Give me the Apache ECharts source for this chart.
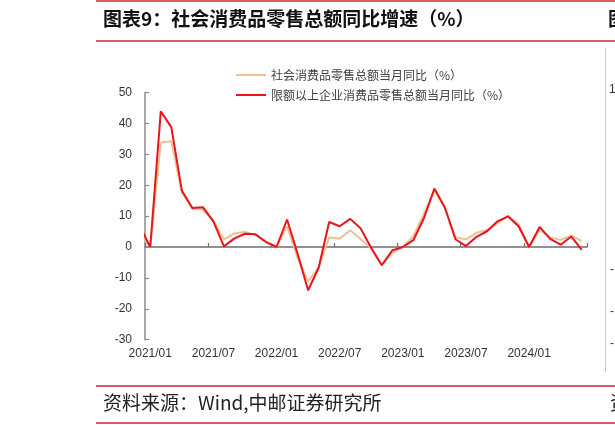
<!DOCTYPE html>
<html>
<head>
<meta charset="utf-8">
<script src="https://cdn.jsdelivr.net/npm/echarts@6/dist/echarts.min.js"></script>
<style>html,body{margin:0;padding:0;background:#fff;}#c{width:615px;height:425px;}</style>
</head>
<body>
<div id="c"></div>
<script>
const months = [
  '2020/12',
  '2021/01','2021/02','2021/03','2021/04','2021/05','2021/06','2021/07','2021/08','2021/09','2021/10','2021/11','2021/12',
  '2022/01','2022/02','2022/03','2022/04','2022/05','2022/06','2022/07','2022/08','2022/09','2022/10','2022/11','2022/12',
  '2023/01','2023/02','2023/03','2023/04','2023/05','2023/06','2023/07','2023/08','2023/09','2023/10','2023/11','2023/12',
  '2024/01','2024/02','2024/03','2024/04','2024/05','2024/06'
];
const retailTotal = [
  4.6,
  0, 33.8, 34.2, 17.7, 12.4, 12.1, 8.5, 2.5, 4.4, 4.9, 3.9, 1.7,
  0, 6.7, -3.5, -11.1, -6.7, 3.1, 2.7, 5.4, 2.5, -0.5, -5.9, -1.8,
  0, 3.5, 10.6, 18.4, 12.7, 3.1, 2.5, 4.6, 5.5, 7.6, 10.1, 7.4,
  0, 5.5, 3.1, 2.3, 3.7, 2.0
];
const retailAboveQuota = [
  6.8,
  0, 43.9, 38.8, 18.3, 12.6, 12.9, 8.3, 0.2, 2.8, 4.3, 4.1, 1.6,
  0, 8.9, -2.2, -14.0, -6.7, 8.1, 6.7, 9.1, 6.0, -0.3, -5.9, -1.1,
  0, 2.2, 9.3, 18.9, 12.7, 2.5, 0.3, 3.3, 5.1, 8.3, 9.9, 6.7,
  0, 6.5, 2.6, 0.75, 3.4, -0.9
];
const seriesNames = ['社会消费品零售总额当月同比（%）', '限额以上企业消费品零售总额当月同比（%）'];
const yTicks = { min: -30, max: 50, interval: 10 };
const titleText = '图表9：社会消费品零售总额同比增速（%）';
const sourceText = '资料来源：Wind,中邮证券研究所';

const showLabel = (idx, val) => /\/(01|07)$/.test(val);

const chart = echarts.init(document.getElementById('c'), null, { renderer: 'canvas' });
chart.setOption({
  animation: false,
  backgroundColor: '#ffffff',
  grid: { left: 145, top: 92.5, right: 28, bottom: 85.3, containLabel: false, outerBoundsMode: 'none' },
  legend: {
    orient: 'vertical',
    left: 236,
    top: 69,
    padding: 0,
    icon: 'rect',
    itemWidth: 30,
    itemHeight: 2,
    itemGap: 8,
    textStyle: { fontFamily: 'Noto Sans CJK SC', fontSize: 12, color: '#404040' },
    data: seriesNames
  },
  xAxis: {
    type: 'category',
    data: months,
    min: 1,
    boundaryGap: true,
    axisLine: { onZero: true, lineStyle: { color: '#6e6e6e', width: 1.5 } },
    axisTick: { show: true, inside: true, length: 4, interval: showLabel, lineStyle: { color: '#6e6e6e', width: 1.2 } },
    axisLabel: {
      interval: showLabel,
      margin: 8,
      fontFamily: 'Liberation Sans',
      fontSize: 12,
      color: '#333333'
    },
    splitLine: { show: false }
  },
  yAxis: {
    type: 'value',
    min: yTicks.min,
    max: yTicks.max,
    interval: yTicks.interval,
    axisLine: { show: true, lineStyle: { color: '#8c8c8c', width: 1.5 } },
    axisTick: { show: true, inside: true, length: 4, lineStyle: { color: '#8c8c8c', width: 1.2 } },
    axisLabel: { margin: 13, fontFamily: 'Liberation Sans', fontSize: 12, color: '#333333' },
    splitLine: { show: false }
  },
  series: [
    {
      name: seriesNames[0],
      type: 'line',
      data: retailTotal,
      symbol: 'none',
      clip: true,
      lineStyle: { color: '#E9C394', width: 2 },
      itemStyle: { color: '#E9C394' },
      z: 2
    },
    {
      name: seriesNames[1],
      type: 'line',
      data: retailAboveQuota,
      symbol: 'none',
      clip: true,
      lineStyle: { color: '#E8141E', width: 2 },
      itemStyle: { color: '#E8141E' },
      z: 3
    }
  ],
  graphic: [
    { type: 'line', shape: { x1: 96, y1: 1, x2: 615, y2: 1 }, style: { stroke: '#C8282E', lineWidth: 1.5 } },
    { type: 'line', shape: { x1: 96, y1: 41, x2: 615, y2: 41 }, style: { stroke: '#C8282E', lineWidth: 1.5 } },
    { type: 'line', shape: { x1: 96, y1: 386, x2: 615, y2: 386 }, style: { stroke: '#C8282E', lineWidth: 1.5 } },
    { type: 'line', shape: { x1: 96, y1: 423, x2: 615, y2: 423 }, style: { stroke: '#C8282E', lineWidth: 1.5 } },
    { type: 'line', shape: { x1: 605.5, y1: 48, x2: 605.5, y2: 372 }, style: { stroke: '#cccccc', lineWidth: 1 } },
    { type: 'text', left: 103, top: 9, style: { text: titleText, font: 'bold 19px "Noto Sans CJK SC"', fill: '#111111' } },
    { type: 'text', left: 103, top: 393, style: { text: sourceText, font: '19px "Noto Sans CJK SC"', fill: '#222222' } },
    { type: 'text', x: 608, y: 9, style: { text: '图', font: 'bold 19px "Noto Sans CJK SC"', fill: '#111111' } },
    { type: 'text', x: 610, y: 393, style: { text: '资', font: '19px "Noto Sans CJK SC"', fill: '#222222' } },
    { type: 'text', x: 609, y: 84, style: { text: '1', font: '12px "Liberation Sans"', fill: '#333333' } },
    { type: 'text', x: 610, y: 264, style: { text: '-', font: '12px "Liberation Sans"', fill: '#333333' } },
    { type: 'text', x: 610, y: 306, style: { text: '-', font: '12px "Liberation Sans"', fill: '#333333' } },
    { type: 'text', x: 610, y: 338, style: { text: '-', font: '12px "Liberation Sans"', fill: '#333333' } }
  ]
});
</script>
</body>
</html>
